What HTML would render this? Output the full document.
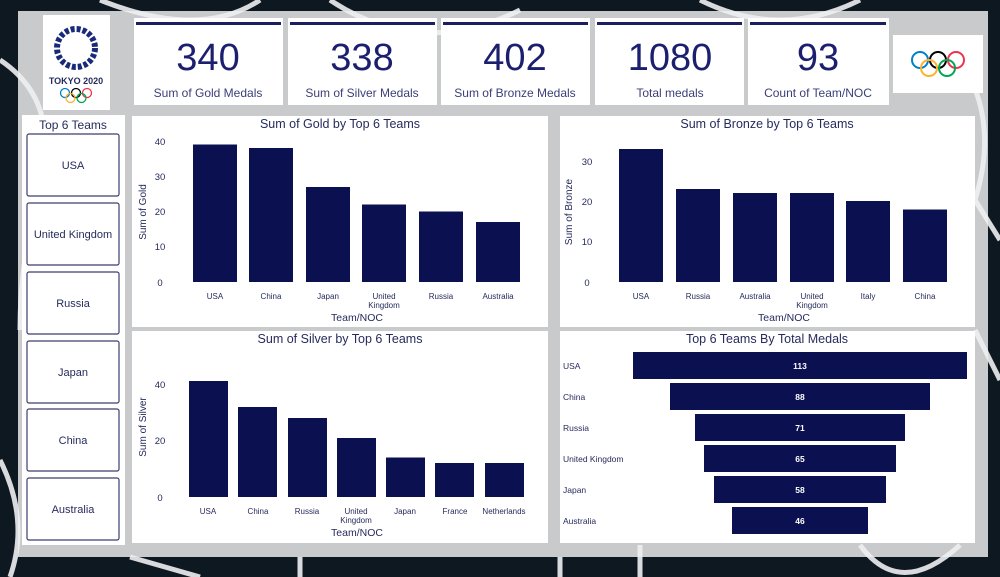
<!DOCTYPE html>
<html><head><meta charset="utf-8"><style>
html,body{margin:0;padding:0;background:#0e1820;}
svg{display:block}
text{font-family:"Liberation Sans Narrow","Liberation Sans",sans-serif;fill:#262b5c}
</style></head><body>
<svg width="1000" height="577" viewBox="0 0 1000 577" xmlns="http://www.w3.org/2000/svg">
<rect width="1000" height="577" fill="#0e1820"/>
<rect x="18" y="11" width="970" height="546" fill="#c9cacc"/>
<!-- background line art -->
<g fill="none" stroke="#eef0f2" stroke-width="5" opacity="0.9">
<path d="M0 60 Q60 100 40 180 T20 330"/>
<path d="M0 460 Q30 520 10 577"/>
<path d="M100 0 Q200 40 260 0"/>
<path d="M330 0 Q420 60 520 10"/>
<path d="M700 0 Q780 40 860 0"/>
<path d="M960 60 Q1000 120 975 200 L1000 240"/>
<path d="M975 330 L1000 380"/>
<path d="M560 557 L560 577 M640 545 L640 577 M860 545 Q900 600 960 545"/>
<path d="M130 557 L200 577 M300 557 L300 577"/>
</g>
<!-- logo card -->
<rect x="43" y="15" width="67" height="95" fill="#fff"/>
<circle cx="76" cy="48" r="19" fill="none" stroke="#1a2a7a" stroke-width="6" stroke-dasharray="4 2"/>
<text x="76" y="84" font-size="9" text-anchor="middle" font-weight="bold">TOKYO 2020</text>
<g fill="none" stroke-width="1.3">
<circle cx="65" cy="93" r="4.5" stroke="#0081c8"/><circle cx="76" cy="93" r="4.5" stroke="#000"/><circle cx="87" cy="93" r="4.5" stroke="#ee334e"/>
<circle cx="70.5" cy="98" r="4.5" stroke="#fcb131"/><circle cx="81.5" cy="98" r="4.5" stroke="#00a651"/>
</g>
<!-- KPI cards -->
<g>
<rect x="134" y="18" width="149" height="87" fill="#fff"/><rect x="136" y="22" width="145" height="3" fill="#1b1f5e"/>
<text x="208" y="70" font-size="38" text-anchor="middle" style="fill:#1b1f6e">340</text><text x="208" y="97" font-size="12" text-anchor="middle" style="fill:#3a3f78">Sum of Gold Medals</text>
<rect x="288" y="18" width="149" height="87" fill="#fff"/><rect x="290" y="22" width="145" height="3" fill="#1b1f5e"/>
<text x="362" y="70" font-size="38" text-anchor="middle" style="fill:#1b1f6e">338</text><text x="362" y="97" font-size="12" text-anchor="middle" style="fill:#3a3f78">Sum of Silver Medals</text>
<rect x="441" y="18" width="149" height="87" fill="#fff"/><rect x="443" y="22" width="145" height="3" fill="#1b1f5e"/>
<text x="515" y="70" font-size="38" text-anchor="middle" style="fill:#1b1f6e">402</text><text x="515" y="97" font-size="12" text-anchor="middle" style="fill:#3a3f78">Sum of Bronze Medals</text>
<rect x="595" y="18" width="149" height="87" fill="#fff"/><rect x="597" y="22" width="145" height="3" fill="#1b1f5e"/>
<text x="670" y="70" font-size="38" text-anchor="middle" style="fill:#1b1f6e">1080</text><text x="670" y="97" font-size="12" text-anchor="middle" style="fill:#3a3f78">Total medals</text>
<rect x="748" y="18" width="141" height="87" fill="#fff"/><rect x="750" y="22" width="136" height="3" fill="#1b1f5e"/>
<text x="818" y="70" font-size="38" text-anchor="middle" style="fill:#1b1f6e">93</text><text x="818" y="97" font-size="12" text-anchor="middle" style="fill:#3a3f78">Count of Team/NOC</text>
</g>
<!-- rings card -->
<rect x="893" y="35" width="90" height="58" fill="#fff"/>
<g fill="none" stroke-width="2">
<circle cx="920" cy="60" r="8" stroke="#0081c8"/><circle cx="938" cy="60" r="8" stroke="#000"/><circle cx="956" cy="60" r="8" stroke="#ee334e"/>
<circle cx="929" cy="68" r="8" stroke="#fcb131"/><circle cx="947" cy="68" r="8" stroke="#00a651"/>
</g>
<!-- slicer -->
<rect x="22" y="115" width="103" height="430" fill="#fff"/>
<text x="73" y="129" font-size="12" text-anchor="middle">Top 6 Teams</text>
<g fill="#fff" stroke="#3b3f6e" stroke-width="1.2">
<rect x="27" y="134" width="92" height="62" rx="2"/><rect x="27" y="203" width="92" height="62" rx="2"/>
<rect x="27" y="272" width="92" height="62" rx="2"/><rect x="27" y="341" width="92" height="62" rx="2"/>
<rect x="27" y="409" width="92" height="62" rx="2"/><rect x="27" y="478" width="92" height="62" rx="2"/>
</g>
<g font-size="11" text-anchor="middle">
<text x="73" y="169">USA</text><text x="73" y="238">United Kingdom</text><text x="73" y="307">Russia</text>
<text x="73" y="376">Japan</text><text x="73" y="444">China</text><text x="73" y="513">Australia</text>
</g>
<!-- chart panels -->
<rect x="132" y="116" width="416" height="211" fill="#fff"/>
<rect x="560" y="116" width="415" height="211" fill="#fff"/>
<rect x="132" y="331" width="416" height="212" fill="#fff"/>
<rect x="560" y="331" width="415" height="212" fill="#fff"/>
<!-- gold -->
<text x="340" y="128" font-size="12.5" text-anchor="middle">Sum of Gold by Top 6 Teams</text>
<g font-size="9.5" text-anchor="middle"><text x="160" y="145">40</text><text x="160" y="180">30</text><text x="160" y="215">20</text><text x="160" y="250">10</text><text x="160" y="286">0</text></g>
<text transform="translate(146 212) rotate(-90)" font-size="10" text-anchor="middle">Sum of Gold</text>
<g fill="#0b1150">
<rect x="193" y="144.5" width="44" height="137.5"/><rect x="249" y="148" width="44" height="134"/><rect x="306" y="187" width="44" height="95"/>
<rect x="362" y="204.5" width="44" height="77.5"/><rect x="419" y="211.5" width="44" height="70.5"/><rect x="476" y="222" width="44" height="60"/>
</g>
<g font-size="8" text-anchor="middle"><text x="215" y="299">USA</text><text x="271" y="299">China</text><text x="328" y="299">Japan</text><text x="384" y="299">United</text><text x="384" y="308">Kingdom</text><text x="441" y="299">Russia</text><text x="498" y="299">Australia</text></g>
<text x="357" y="321" font-size="10.5" text-anchor="middle">Team/NOC</text>
<!-- bronze -->
<text x="767" y="128" font-size="12.5" text-anchor="middle">Sum of Bronze by Top 6 Teams</text>
<g font-size="9.5" text-anchor="middle"><text x="587" y="165">30</text><text x="587" y="205">20</text><text x="587" y="245">10</text><text x="587" y="286">0</text></g>
<text transform="translate(572 212) rotate(-90)" font-size="10" text-anchor="middle">Sum of Bronze</text>
<g fill="#0b1150">
<rect x="619" y="149" width="44" height="133"/><rect x="676" y="189" width="44" height="93"/><rect x="733" y="193" width="44" height="89"/>
<rect x="790" y="193" width="44" height="89"/><rect x="846" y="201" width="44" height="81"/><rect x="903" y="209.5" width="44" height="72.5"/>
</g>
<g font-size="8" text-anchor="middle"><text x="641" y="299">USA</text><text x="698" y="299">Russia</text><text x="755" y="299">Australia</text><text x="812" y="299">United</text><text x="812" y="308">Kingdom</text><text x="868" y="299">Italy</text><text x="925" y="299">China</text></g>
<text x="784" y="321" font-size="10.5" text-anchor="middle">Team/NOC</text>
<!-- silver -->
<text x="340" y="343" font-size="12.5" text-anchor="middle">Sum of Silver by Top 6 Teams</text>
<g font-size="9.5" text-anchor="middle"><text x="160" y="388">40</text><text x="160" y="444">20</text><text x="160" y="501">0</text></g>
<text transform="translate(146 427) rotate(-90)" font-size="10" text-anchor="middle">Sum of Silver</text>
<g fill="#0b1150">
<rect x="189" y="381" width="39" height="116"/><rect x="238" y="407" width="39" height="90"/><rect x="288" y="418" width="39" height="79"/>
<rect x="337" y="438" width="39" height="59"/><rect x="386" y="457.5" width="39" height="39.5"/><rect x="435" y="463" width="39" height="34"/><rect x="485" y="463" width="39" height="34"/>
</g>
<g font-size="8" text-anchor="middle"><text x="208" y="514">USA</text><text x="258" y="514">China</text><text x="307" y="514">Russia</text><text x="356" y="514">United</text><text x="356" y="523">Kingdom</text><text x="405" y="514">Japan</text><text x="455" y="514">France</text><text x="504" y="514">Netherlands</text></g>
<text x="357" y="536" font-size="10.5" text-anchor="middle">Team/NOC</text>
<!-- funnel -->
<text x="767" y="343" font-size="12.5" text-anchor="middle">Top 6 Teams By Total Medals</text>
<g fill="#0b1150">
<rect x="633" y="352" width="334" height="27"/><rect x="670" y="383" width="260" height="27"/><rect x="695" y="414" width="210" height="27"/>
<rect x="704" y="445" width="192" height="27"/><rect x="714" y="476" width="172" height="27"/><rect x="732" y="507" width="136" height="27"/>
</g>
<g font-size="8.5"><text x="563" y="369">USA</text><text x="563" y="400">China</text><text x="563" y="431">Russia</text><text x="563" y="462">United Kingdom</text><text x="563" y="493">Japan</text><text x="563" y="524">Australia</text></g>
<g font-size="8.5" text-anchor="middle" font-weight="bold" style="fill:#fff"><text x="800" y="369" style="fill:#fff">113</text><text x="800" y="400" style="fill:#fff">88</text><text x="800" y="431" style="fill:#fff">71</text><text x="800" y="462" style="fill:#fff">65</text><text x="800" y="493" style="fill:#fff">58</text><text x="800" y="524" style="fill:#fff">46</text></g>
</svg>
</body></html>
